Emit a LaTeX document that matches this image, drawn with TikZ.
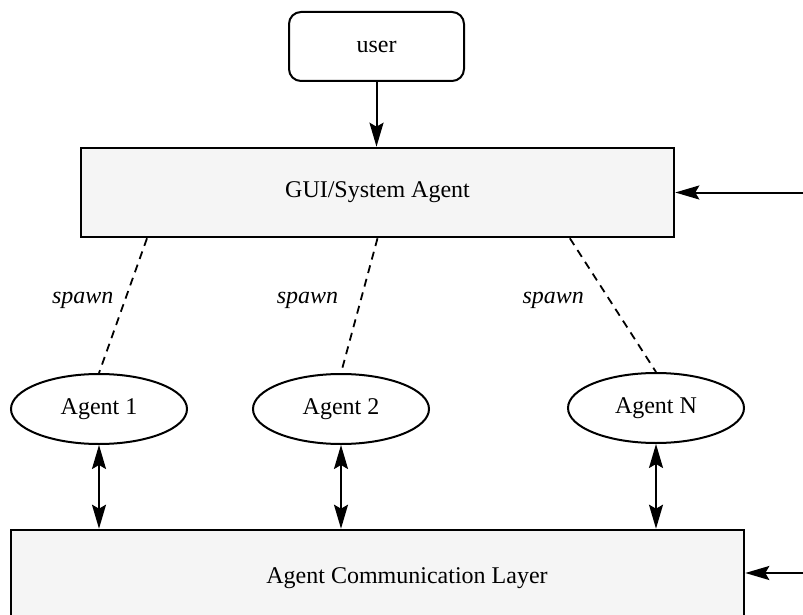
\documentclass[tikz,border=0pt]{standalone}
\usepackage{fontspec}
\setmainfont{Liberation Serif}
\usetikzlibrary{shapes.geometric, arrows.meta, positioning, calc}

\begin{document}
\begin{tikzpicture}[
    x=0.5pt, y=-0.5pt,
    font=\fontsize{12}{14}\selectfont,
    user/.style={rectangle, rounded corners=6pt, draw, line width=1pt, minimum width=87.5pt, minimum height=34.5pt},
    layer/.style={rectangle, draw, fill=black!4, line width=1.3pt},
    agent/.style={ellipse, draw, line width=1pt, minimum width=88pt, minimum height=35pt, inner sep=0pt},
    arrow/.style={line width=1pt, -{Stealth[length=12pt, width=7pt, inset=2pt]}},
    twoway/.style={line width=1pt, {Stealth[length=12pt, width=7pt, inset=2pt]}-{Stealth[length=12pt, width=7pt, inset=2pt]}},
    spawnline/.style={line width=0.9pt, dash pattern=on 4pt off 3pt},
    spawnlbl/.style={font=\fontsize{12}{14}\selectfont\itshape, yshift=2.5pt}
]
\clip (0,0) rectangle (803,615);

% Nodes
\node (user) [user] at (376.5,46.5) {user};
\node (gui) [layer, minimum width=296.5pt, minimum height=44.5pt] at (377.5,192.5) {GUI/System Agent};
\node (ag1) [agent] at (99,409) {Agent 1};
\node (ag2) [agent] at (341,409) {Agent 2};
\node (agN) [agent] at (656,408) {Agent N};
\node (acl) [layer, minimum width=366.5pt, minimum height=50pt,
    label={[xshift=14.75pt, yshift=1pt]center:Agent Communication Layer}] at (377.5,580) {};

% free ends of the incoming arrows
\coordinate (guiin) at (803,192.5);
\coordinate (aclin) at (803,573);

% Connections
\draw [arrow] (user.south) -- (user.south |- gui.north);
\draw [arrow] (guiin) -- (gui.east);
\draw [arrow] (aclin) -- (aclin -| acl.east);

\draw [spawnline] ($(gui.south west)!0.113!(gui.south east)$) -- node[spawnlbl, left=1pt] {spawn} (ag1.north);
\draw [spawnline] (gui.south) -- node[spawnlbl, left=6.75pt] {spawn} (ag2.north);
\draw [spawnline] ($(gui.south west)!0.823!(gui.south east)$) -- node[spawnlbl, left=10.75pt] {spawn} (agN.north);

\draw [twoway] (ag1.south) -- (ag1.south |- acl.north);
\draw [twoway] (ag2.south) -- (ag2.south |- acl.north);
\draw [twoway] (agN.south) -- (agN.south |- acl.north);

\end{tikzpicture}
\end{document}
